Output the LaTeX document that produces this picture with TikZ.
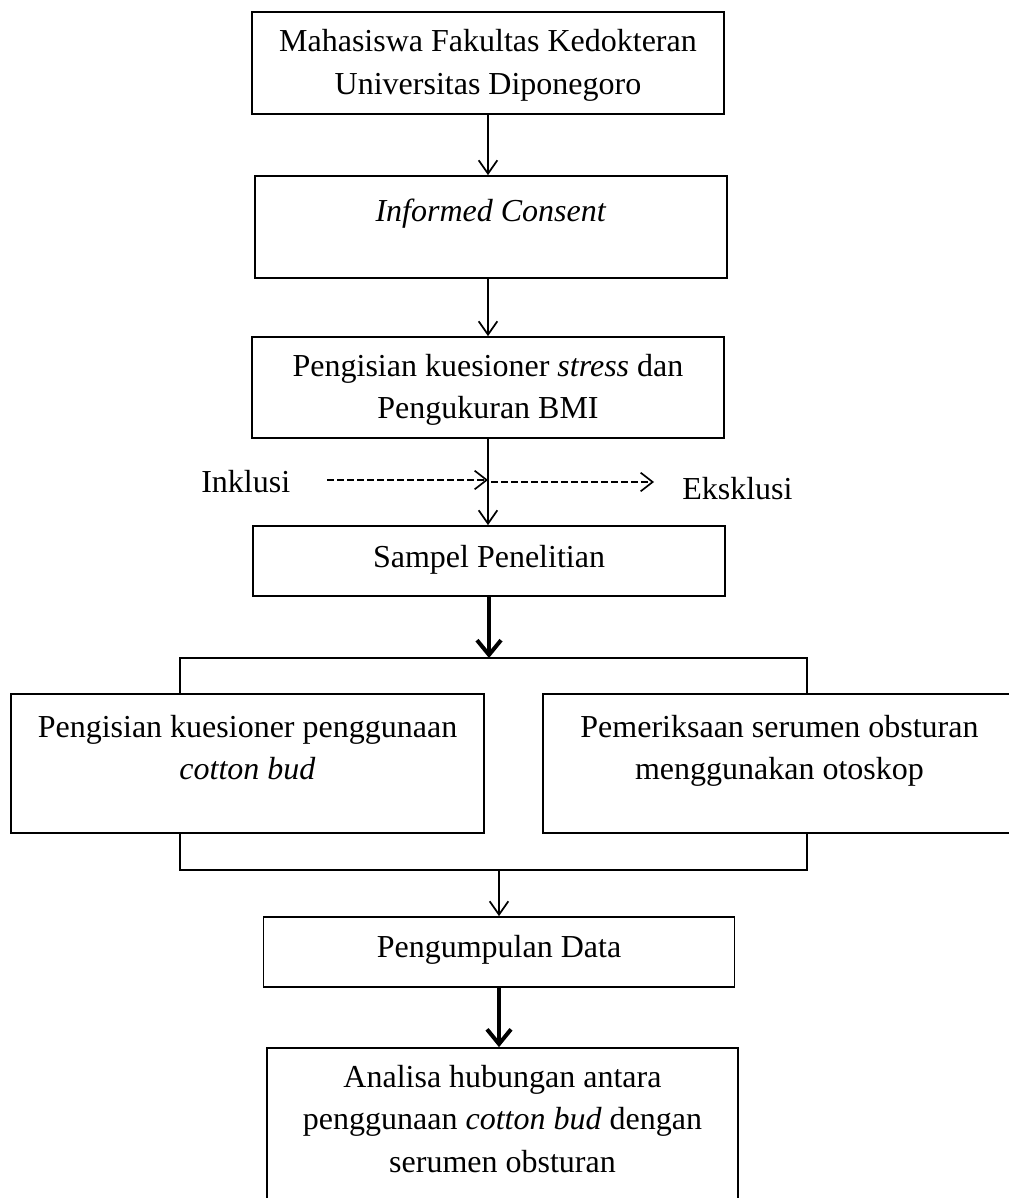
\documentclass[tikz,border=0pt]{standalone}
\usepackage{fontspec}
\setmainfont{Liberation Serif}
\usetikzlibrary{arrows.meta, calc}

\newcommand{\boxfont}{\fontsize{24}{31.9}\selectfont}

\tikzset{
  box/.style={draw, line width=1.3pt, inner sep=0pt, anchor=base,
    text width=354pt, align=flush center, font=\boxfont},
  flow/.style={line width=1.3pt, -{Straight Barb[length=10pt, width=14pt]}},
  bold flow/.style={line width=3pt, -{Straight Barb[length=11pt, width=18pt]}},
  side/.style={line width=1.25pt, dash pattern=on 5pt off 2.5pt,
    -{Straight Barb[length=9pt, width=14pt]}},
  bracket/.style={line width=1pt},
}

\begin{document}
\begin{tikzpicture}[x=0.75pt, y=-0.75pt]
  \useasboundingbox (0,0) rectangle (1009,1198);

  % main column
  \node[box, text height=30pt, text depth=46.5pt] (mhs) at (488,52)
    {Mahasiswa Fakultas Kedokteran\\Universitas Diponegoro};
  \node[box, text height=34.5pt, text depth=42pt] (ic) at (491,222)
    {\textit{Informed Consent}};
  \node[box, text height=29.25pt, text depth=46.5pt] (kues) at (488,376)
    {Pengisian kuesioner \textit{stress} dan\\Pengukuran BMI};
  \node[box, text height=30.75pt, text depth=21.75pt] (smp) at (489,567)
    {Sampel Penelitian};

  % two checks
  \node[box, text width=354.75pt, text height=32.25pt, text depth=72pt] (cb) at (247.5,737)
    {Pengisian kuesioner penggunaan\\\textit{cotton bud}};
  \node[box, text width=354.75pt, text height=32.25pt, text depth=72pt] (oto) at (779.5,737)
    {Pemeriksaan serumen obsturan\\menggunakan otoskop};

  \node[box, text width=353.25pt, text height=30pt, text depth=22.5pt] (data) at (499,957)
    {Pengumpulan Data};
  \node[box, text width=353.25pt, text height=29.25pt, text depth=96pt] (ana) at (502.5,1087)
    {Analisa hubungan antara\\penggunaan \textit{cotton bud} dengan\\serumen obsturan};

  % side labels
  \node[font=\boxfont, anchor=base west, inner sep=0pt] (inkl) at (201,492) {Inklusi};
  \node[font=\boxfont, anchor=base west, inner sep=0pt] (eksk) at (682,499) {Eksklusi};

  \coordinate (inA) at (327,480);
  \coordinate (inB) at (488,480);
  \coordinate (exA) at (491,482);
  \coordinate (exB) at (654,482);

  \coordinate (tl) at (180,658);
  \coordinate (tr) at (807,658);
  \coordinate (bl) at (180,870);
  \coordinate (br) at (807,870);

  % connectors
  \draw[flow] (mhs.south) -- (mhs.south |- ic.north);
  \draw[flow] (ic.south -| mhs.south) -- (kues.north);
  \draw[flow] (kues.south) -- (kues.south |- smp.north);
  \draw[side] (inA) -- (inB);
  \draw[side] (exA) -- (exB);
  \draw[bold flow] (smp.south) -- (smp.south |- tl);

  \draw[bracket] (cb.north -| tl) -- (tl) -- (tr) -- (oto.north -| tr);
  \draw[bracket] (cb.south -| bl) -- (bl) -- (br) -- (oto.south -| br);

  \draw[flow] (data.north |- bl) -- (data.north);
  \draw[bold flow] (data.south) -- (data.south |- ana.north);
\end{tikzpicture}
\end{document}
